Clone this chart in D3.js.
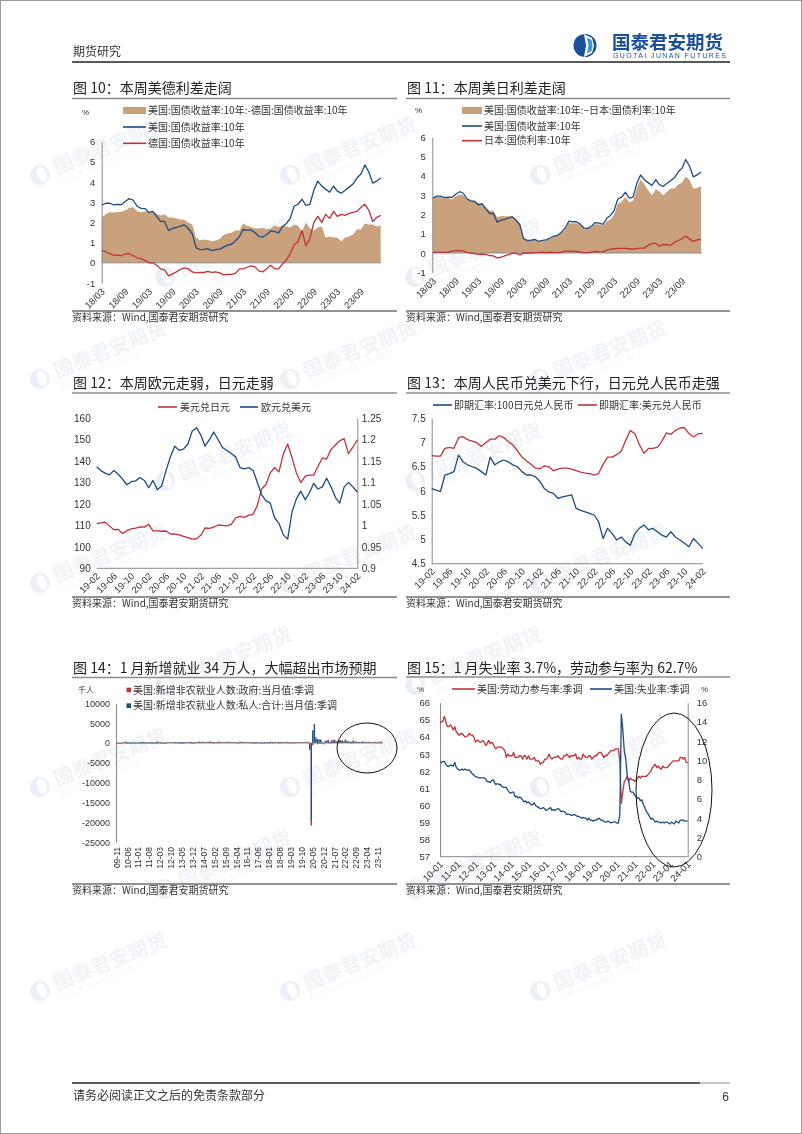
<!DOCTYPE html>
<html><head><meta charset="utf-8">
<script src="https://cdn.jsdelivr.net/npm/d3@7"></script>
<style>body{margin:0;background:#fff}svg{display:block}</style>
</head><body><svg id="page" width="802" height="1134"></svg>
<script>
// ---------------- DATA ----------------
// Fig 10/11: monthly, 2018-03 .. 2024-02
const bondStart = "2018-03";
const usYield = [2.85,2.95,2.95,2.87,2.90,2.88,3.05,3.18,3.10,2.80,
 2.70,2.68,2.50,2.55,2.30,2.05,2.05,1.60,1.70,1.75,1.82,1.88,
 1.70,1.45,0.75,0.65,0.67,0.70,0.60,0.65,0.68,0.78,0.88,0.92,
 1.08,1.30,1.65,1.62,1.62,1.50,1.30,1.28,1.40,1.58,1.55,1.48,
 1.80,1.95,2.20,2.80,2.90,3.15,2.85,2.90,3.60,4.05,3.80,3.65,
 3.50,3.80,3.55,3.45,3.60,3.75,3.90,4.20,4.40,4.85,4.50,3.95,
 4.05,4.20];
const deYield = [0.60,0.55,0.45,0.38,0.38,0.35,0.45,0.45,0.35,0.25,
 0.20,0.12,0.00,0.00,-0.12,-0.30,-0.35,-0.65,-0.55,-0.45,-0.33,-0.25,
 -0.30,-0.45,-0.50,-0.47,-0.48,-0.43,-0.47,-0.45,-0.50,-0.60,-0.57,-0.57,
 -0.52,-0.30,-0.30,-0.22,-0.15,-0.20,-0.40,-0.45,-0.28,-0.12,-0.30,-0.30,
 -0.05,0.15,0.45,0.90,1.05,1.60,0.85,1.20,2.00,2.30,2.00,2.40,
 2.20,2.55,2.30,2.40,2.35,2.45,2.50,2.55,2.75,2.90,2.60,2.05,
 2.25,2.35];
const jpYield = [0.04,0.05,0.05,0.03,0.05,0.10,0.12,0.14,0.10,0.03,
 0.00,-0.03,-0.07,-0.05,-0.07,-0.13,-0.15,-0.25,-0.22,-0.15,-0.08,-0.02,
 -0.02,-0.10,0.00,-0.02,0.00,0.02,0.02,0.04,0.02,0.04,0.02,0.02,
 0.04,0.10,0.10,0.09,0.08,0.05,0.02,0.02,0.05,0.09,0.07,0.06,
 0.15,0.20,0.22,0.24,0.24,0.24,0.22,0.20,0.24,0.25,0.25,0.40,
 0.50,0.50,0.35,0.45,0.43,0.40,0.55,0.65,0.75,0.88,0.72,0.60,
 0.68,0.72];
const bondTicks = ["18/03","18/09","19/03","19/09","20/03","20/09","21/03","21/09","22/03","22/09","23/03","23/09"];
const bondYTicks = [-1,0,1,2,3,4,5,6];

// Fig 12/13: monthly, 2019-02 .. 2024-02
const fxStart = "2019-02";
const usdJpy = [110.8,111.2,111.5,109.8,108.0,108.2,106.2,107.6,108.4,108.8,109.3,
 109.2,110.5,107.5,107.5,107.3,107.4,106.0,106.0,105.6,104.9,104.3,103.6,
 103.8,105.5,108.8,108.6,109.2,110.2,110.0,109.8,110.5,113.5,114.2,113.8,
 114.8,115.2,119.0,127.0,129.0,134.5,137.0,135.0,143.5,148.0,141.5,134.5,
 130.0,133.0,133.5,133.5,137.5,141.5,141.0,145.5,147.5,149.5,150.5,143.5,
 146.5,150.0];
const eurUsd = [1.137,1.128,1.122,1.118,1.128,1.120,1.108,1.095,1.102,1.104,1.112,
 1.105,1.088,1.105,1.083,1.092,1.128,1.160,1.185,1.175,1.178,1.190,1.220,
 1.228,1.210,1.185,1.200,1.218,1.200,1.182,1.175,1.168,1.160,1.135,1.132,
 1.135,1.128,1.102,1.072,1.058,1.052,1.018,1.005,0.978,0.968,1.032,1.062,
 1.080,1.060,1.075,1.098,1.085,1.090,1.110,1.090,1.065,1.052,1.090,1.100,
 1.090,1.078];
const jpyCny = [6.05,6.02,5.99,6.33,6.36,6.40,6.74,6.60,6.54,6.50,6.47,
 6.40,6.33,6.70,6.54,6.60,6.64,6.60,6.54,6.50,6.40,6.33,6.33,
 6.29,6.19,6.05,5.98,5.95,5.85,5.88,5.90,5.92,5.64,5.60,5.57,
 5.54,5.50,5.37,5.02,5.23,5.12,4.99,5.05,4.95,4.88,5.12,5.23,
 5.30,5.20,5.23,5.16,5.09,5.05,5.16,5.05,4.99,4.92,4.85,5.02,
 4.92,4.81];
const usdCny = [6.73,6.72,6.72,6.88,6.90,6.88,7.10,7.12,7.06,7.03,7.00,
 6.92,7.00,7.07,7.07,7.14,7.10,7.02,6.95,6.83,6.70,6.62,6.55,
 6.47,6.46,6.52,6.50,6.42,6.45,6.47,6.47,6.45,6.42,6.39,6.37,
 6.36,6.33,6.36,6.55,6.70,6.70,6.75,6.82,7.05,7.25,7.18,6.96,
 6.78,6.88,6.88,6.90,7.02,7.20,7.17,7.25,7.30,7.31,7.18,7.12,
 7.18,7.19];
const fxTicks = ["19-02","19-06","19-10","20-02","20-06","20-10","21-02","21-06","21-10","22-02","22-06","22-10","23-02","23-06","23-10","24-02"];
const jpyYTicks = [90,100,110,120,130,140,150,160];
const eurYTicks = [0.9,0.95,1,1.05,1.1,1.15,1.2,1.25];
const cnyYTicks = [4.5,5,5.5,6,6.5,7,7.5];

// Fig 14: monthly, 2009-11 .. 2024-01 (thousand persons)
const payrollStart = "2009-11";
const privatePayroll = [30,-80,
 -10,-60,140,230,50,80,100,120,110,150,130,120,
 90,250,250,290,170,180,170,140,250,150,170,220,
 370,250,230,90,110,70,170,150,180,180,160,200,
 200,270,130,190,220,190,130,230,160,250,270,70,
 180,180,240,310,230,290,250,210,270,240,340,260,
 200,240,100,260,320,200,260,150,130,290,230,250,
 120,220,220,150,10,270,290,150,240,130,190,180,
 240,230,100,200,170,210,200,190,10,250,210,180,
 180,300,170,180,260,230,180,280,140,270,190,250,
 280,40,180,230,80,180,160,160,160,150,230,140,
 240,260,-1650,-19800,3200,4700,1200,1000,900,900,300,-200,
 480,600,700,250,550,700,700,400,400,650,600,550,
 350,800,450,350,300,300,550,300,300,250,250,200,
 350,250,200,200,250,150,150,150,250,100,150,200,
 320];
const govPayroll = [10,-20,
 -30,10,50,40,400,-200,-90,-120,-70,-20,0,-40,
 -40,-10,-20,-40,-20,-60,-40,-50,-20,-30,-20,-20,
 -20,10,-20,-10,-10,-20,-10,10,10,10,10,10,
 -10,10,-20,0,-10,-10,-10,20,20,10,0,-20,
 -10,20,20,10,10,40,10,10,20,20,30,10,
 0,10,20,10,10,10,20,20,10,30,10,20,
 10,20,10,10,20,30,30,40,10,10,10,30,
 20,0,10,0,-10,20,0,0,20,0,10,0,
 0,20,0,10,10,10,0,10,0,10,10,20,
 10,30,10,20,10,20,20,20,30,10,20,10,
 30,40,-30,-980,-600,50,300,-300,-200,-100,-100,-50,
 40,10,100,-20,70,140,150,200,-50,20,40,40,
 30,80,40,40,20,0,50,30,40,40,40,30,
 40,40,50,50,60,60,50,70,70,50,50,40,
 35];
const payrollTicks = ["09-11","10-06","11-01","11-08","12-03","12-10","13-05","13-12","14-07","15-02","15-09","16-04","16-11","17-06","18-01","18-08","19-03","19-10","20-05","20-12","21-07","22-02","22-09","23-04","23-11"];
const payrollYTicks = [-25000,-20000,-15000,-10000,-5000,0,5000,10000];

// Fig 15: monthly, 2010-01 .. 2024-01
const laborStart = "2010-01";
const lfpr = [64.8,64.9,64.9,65.2,64.9,64.6,64.6,64.7,64.6,64.4,64.6,64.3,
 64.2,64.1,64.2,64.2,64.1,64.0,64.0,64.1,64.2,64.1,64.1,64.0,
 63.7,63.8,63.8,63.7,63.7,63.8,63.7,63.5,63.6,63.8,63.6,63.7,
 63.6,63.4,63.3,63.4,63.4,63.4,63.4,63.3,63.2,62.8,63.0,62.9,
 62.9,62.9,63.1,62.8,62.8,62.8,62.9,62.9,62.7,62.9,62.9,62.7,
 62.9,62.7,62.7,62.7,62.8,62.6,62.6,62.6,62.4,62.5,62.5,62.7,
 62.7,62.8,63.0,62.8,62.7,62.8,62.8,62.8,62.9,62.8,62.7,62.7,
 62.9,62.9,63.0,62.9,62.8,62.9,62.9,62.9,63.0,62.7,62.8,62.7,
 62.7,63.0,62.9,62.8,62.8,62.9,62.9,62.7,62.8,62.9,62.9,63.0,
 63.1,63.1,63.0,62.8,62.9,62.9,63.0,63.1,63.2,63.2,63.2,63.3,
 63.3,63.3,62.6,60.1,60.8,61.4,61.5,61.7,61.4,61.6,61.5,61.5,
 61.4,61.5,61.6,61.7,61.6,61.7,61.7,61.7,61.7,61.8,61.9,62.0,
 62.2,62.3,62.4,62.2,62.3,62.2,62.1,62.3,62.2,62.2,62.2,62.3,
 62.4,62.5,62.6,62.6,62.6,62.6,62.6,62.8,62.8,62.7,62.8,62.5,
 62.5];
const unemp = [9.8,9.8,9.9,9.9,9.6,9.4,9.4,9.5,9.5,9.4,9.8,9.3,
 9.1,9.0,9.0,9.1,9.0,9.1,9.0,9.0,9.0,8.8,8.6,8.5,
 8.3,8.3,8.2,8.2,8.2,8.2,8.2,8.1,7.8,7.8,7.7,7.9,
 8.0,7.7,7.5,7.6,7.5,7.5,7.3,7.2,7.2,7.2,6.9,6.7,
 6.6,6.7,6.7,6.2,6.3,6.1,6.2,6.1,5.9,5.7,5.8,5.6,
 5.7,5.5,5.4,5.4,5.6,5.3,5.2,5.1,5.0,5.0,5.1,5.0,
 4.8,4.9,5.0,5.1,4.8,4.9,4.8,4.9,5.0,4.9,4.7,4.7,
 4.7,4.6,4.4,4.4,4.4,4.3,4.3,4.4,4.3,4.2,4.2,4.1,
 4.0,4.1,4.0,4.0,3.8,4.0,3.8,3.8,3.7,3.8,3.8,3.9,
 4.0,3.8,3.8,3.7,3.6,3.6,3.7,3.6,3.5,3.6,3.6,3.6,
 3.5,3.5,4.4,14.8,13.2,11.0,10.2,8.4,7.8,6.8,6.7,6.7,
 6.4,6.2,6.1,6.1,5.8,5.9,5.4,5.1,4.7,4.5,4.2,3.9,
 4.0,3.8,3.6,3.7,3.6,3.6,3.5,3.6,3.5,3.6,3.6,3.5,
 3.4,3.6,3.5,3.4,3.7,3.6,3.5,3.8,3.8,3.8,3.7,3.7,
 3.7];
const laborTicks = ["10-01","11-01","12-01","13-01","14-01","15-01","16-01","17-01","18-01","19-01","20-01","21-01","22-01","23-01","24-01"];
const lfprYTicks = [57,58,59,60,61,62,63,64,65,66];
const unempYTicks = [0,2,4,6,8,10,12,14,16];

// ---------------- HELPERS ----------------
const CJK = '"Noto Sans CJK SC","Noto Sans CJK JP",sans-serif';
const NUM = '"Liberation Sans",Arial,sans-serif';
const BLUE = "#1f4b7d", RED = "#c3313a", TAN = "#c9a17c", AXIS = "#8a8a8a";
const svg = d3.select("#page");

function months(start, n){ const [y,m] = start.split("-").map(Number); return d3.range(n).map(i => new Date(y, m-1+i, 1)); }
function parseTick(s){ const p = s.split(/[-\/]/).map(Number); return new Date(2000+p[0], p[1]-1, 1); }
function txt(x, y, s, o={}){
  return svg.append("text").attr("x",x).attr("y",y).text(s)
    .attr("font-size", o.size||10).attr("fill", o.fill||"#333")
    .attr("font-family", o.font||CJK).attr("text-anchor", o.anchor||"start")
    .attr("font-weight", o.weight||"normal").attr("dy", o.dy||"0.35em");
}
function line(x1,y1,x2,y2,stroke,w){ return svg.append("line").attr("x1",x1).attr("y1",y1).attr("x2",x2).attr("y2",y2).attr("stroke",stroke).attr("stroke-width",w); }
function fmtNum(d){ return String(+(+d).toFixed(2)); }
function yAxis(side, scale, x, ticks, pad, size, showLine){
  const gen = (side==="left"?d3.axisLeft(scale):d3.axisRight(scale)).tickValues(ticks).tickFormat(fmtNum).tickSize(0).tickSizeOuter(0).tickPadding(pad);
  const g = svg.append("g").attr("transform",`translate(${x},0)`).call(gen);
  g.attr("font-family",NUM).attr("font-size",size);
  g.selectAll("text").attr("fill","#333");
  g.select(".domain").attr("stroke", showLine?AXIS:"none").attr("stroke-width",1);
  return g;
}
function xAxisRot(scale, y, ticks, size, rot, dx, dy){
  const gen = d3.axisBottom(scale).tickValues(ticks.map(parseTick)).tickFormat((d,i)=>ticks[i]).tickSize(0).tickSizeOuter(0);
  const g = svg.append("g").attr("transform",`translate(0,${y})`).call(gen);
  g.select(".domain").remove();
  g.attr("font-family",NUM).attr("font-size",size);
  g.selectAll("text").attr("fill","#333").attr("x",0).attr("y",0).attr("dy","0.35em")
    .attr("text-anchor","end").attr("transform",`translate(${dx},${dy}) rotate(${rot})`);
  return g;
}
function pathLine(data, x, y, color, w){
  svg.append("path").datum(data).attr("fill","none").attr("stroke",color).attr("stroke-width",w||1.3)
    .attr("stroke-linejoin","round").attr("d", d3.line().x(d=>x(d[0])).y(d=>y(d[1])));
}

// ---------------- PAGE ----------------
svg.append("rect").attr("x",0.5).attr("y",0.5).attr("width",801).attr("height",1133).attr("fill","#fff").attr("stroke","#9a9a9a");

// watermarks (faint, kept inside the page)
const wm = svg.append("g").attr("opacity",0.38);
for(let j=0;j<9;j++){
  const cols = (j%2) ? [165,415] : [40,290,540];
  cols.forEach(wx=>{
    const wy = 175 + j*102;
    const u = wm.append("g").attr("transform",`translate(${wx},${wy}) rotate(-22)`);
    u.append("circle").attr("cx",0).attr("cy",0).attr("r",10).attr("fill","#c9d7e8");
    u.append("ellipse").attr("cx",2).attr("cy",0).attr("rx",4.5).attr("ry",8).attr("fill","#fff");
    u.append("text").attr("x",16).attr("y",6).text("国泰君安期货").attr("font-family",CJK).attr("font-weight","bold").attr("font-size",20).attr("fill","#d8e1ec");
    u.append("text").attr("x",16).attr("y",16).text("GUOTAI JUNAN FUTURES").attr("font-family",NUM).attr("font-size",7).attr("fill","#dde5ee");
  });
}

// header
txt(73, 52, "期货研究", {size:12, fill:"#333"});
const logo = svg.append("g");
logo.append("circle").attr("cx",585).attr("cy",45.5).attr("r",11.5).attr("fill","#1b4f9c");
logo.append("path").attr("d","M584,34 L592,38 L594,45.5 L592,53 L584,57 L586,45.5 Z").attr("fill","#fff");
logo.append("path").attr("d","M587,37.5 L591.5,40 L592.5,45.5 L591.5,51 L587,53.5 L588.5,45.5 Z").attr("fill","#3d93d8");
txt(612, 42.5, "国泰君安期货", {size:18.5, fill:"#1b4f9c", weight:"bold"});
svg.append("text").attr("x",613).attr("y",58).text("GUOTAI JUNAN FUTURES").attr("font-family",NUM).attr("font-size",7)
  .attr("fill","#1b4f9c").attr("textLength",113).attr("lengthAdjust","spacing");
line(72, 62, 730, 62, "#222", 1.3);

// footer
line(72, 1083, 700, 1083, "#222", 1.5);
line(700, 1083, 730, 1083, "#b5b5b5", 1.5);
txt(73, 1096, "请务必阅读正文之后的免责条款部分", {size:12, fill:"#333"});
txt(729, 1097, "6", {size:12, fill:"#333", anchor:"end", font:NUM});

function frame(x0, x1, titleY, underY, srcLineY, title){
  txt(x0+1, titleY, title, {size:14, fill:"#222"});
  line(x0, underY, x1, underY, "#8c8c8c", 1.5);
  line(x0, srcLineY, x1, srcLineY, "#6e6e6e", 1.5);
  txt(x0, srcLineY+6, "资料来源：Wind,国泰君安期货研究", {size:10, fill:"#333"});
}

// ---------------- FIG 10 ----------------
(function(){
  frame(72, 397, 88, 98.5, 311, "图 10：本周美德利差走阔");
  const dates = months(bondStart, usYield.length);
  const x = d3.scaleTime().domain([dates[0], dates[dates.length-1]]).range([101.7, 380.7]);
  const y = d3.scaleLinear().domain([-1,6]).range([283,141.7]);
  txt(82, 112, "%", {size:8, font:NUM});
  svg.append("rect").attr("x",123).attr("y",107).attr("width",23).attr("height",7).attr("fill",TAN);
  txt(148, 110.5, "美国:国债收益率:10年:-德国:国债收益率:10年", {size:10});
  line(123,127,146,127,BLUE,1.6); txt(148, 127, "美国:国债收益率:10年", {size:10});
  line(123,143.3,146,143.3,RED,1.6); txt(148, 143.3, "德国:国债收益率:10年", {size:10});
  const rows = dates.map((d,i)=>({d, us:usYield[i], de:deYield[i]}));
  svg.append("path").datum(rows).attr("fill",TAN)
    .attr("d", d3.area().x(r=>x(r.d)).y0(y(0)).y1(r=>y(r.us - r.de)));
  line(101.7, y(0), 381, y(0), AXIS, 1);
  yAxis("left", y, 101.7, bondYTicks, 6.5, 9.5, true);
  pathLine(rows.map(r=>[r.d, r.us]), x, y, BLUE);
  pathLine(rows.map(r=>[r.d, r.de]), x, y, RED);
  xAxisRot(x, 283, bondTicks, 9.5, -45, 1, 7);
})();

// ---------------- FIG 11 ----------------
(function(){
  frame(406, 730, 88, 98.5, 311, "图 11：本周美日利差走阔");
  const dates = months(bondStart, usYield.length);
  const x = d3.scaleTime().domain([dates[0], dates[dates.length-1]]).range([433, 701]);
  const y = d3.scaleLinear().domain([-1,6]).range([272.3,137.3]);
  txt(415, 110, "%", {size:8, font:NUM});
  svg.append("rect").attr("x",462).attr("y",107).attr("width",20).attr("height",7).attr("fill",TAN);
  txt(484, 110.5, "美国:国债收益率:10年:−日本:国债利率:10年", {size:10});
  line(462,126,482,126,BLUE,1.6); txt(484, 126, "美国:国债收益率:10年", {size:10});
  line(462,140.7,482,140.7,RED,1.6); txt(484, 140.7, "日本:国债利率:10年", {size:10});
  const rows = dates.map((d,i)=>({d, us:usYield[i], jp:jpYield[i]}));
  svg.append("path").datum(rows).attr("fill",TAN)
    .attr("d", d3.area().x(r=>x(r.d)).y0(y(0)).y1(r=>y(r.us - r.jp)));
  line(432.3, y(0), 702, y(0), AXIS, 1);
  yAxis("left", y, 432.3, bondYTicks, 6.5, 9.5, true);
  pathLine(rows.map(r=>[r.d, r.us]), x, y, BLUE);
  pathLine(rows.map(r=>[r.d, r.jp]), x, y, RED);
  xAxisRot(x, 272.3, bondTicks, 9.5, -45, 1, 7);
})();

// ---------------- FIG 12 ----------------
(function(){
  frame(72, 397, 383, 393, 597, "图 12：本周欧元走弱，日元走弱");
  const dates = months(fxStart, usdJpy.length);
  const x = d3.scaleTime().domain([dates[0], dates[dates.length-1]]).range([96.7, 357.3]);
  const yl = d3.scaleLinear().domain([90,160]).range([568.3,418.3]);
  const yr = d3.scaleLinear().domain([0.9,1.25]).range([568.3,418.3]);
  line(158,407,177,407,RED,1.6); txt(180, 407, "美元兑日元", {size:10});
  line(240,407,258,407,BLUE,1.6); txt(261, 407, "欧元兑美元", {size:10});
  yAxis("left", yl, 96.7, jpyYTicks, 6, 10, false);
  yAxis("right", yr, 357.3, eurYTicks, 4.5, 10, true);
  line(96.7, 568.3, 357.3, 568.3, AXIS, 1);
  pathLine(dates.map((d,i)=>[d, usdJpy[i]]), x, yl, RED);
  pathLine(dates.map((d,i)=>[d, eurUsd[i]]), x, yr, BLUE);
  xAxisRot(x, 568.3, fxTicks, 9.5, -45, 1, 6);
})();

// ---------------- FIG 13 ----------------
(function(){
  frame(406, 730, 383, 393, 597, "图 13：本周人民币兑美元下行，日元兑人民币走强");
  const dates = months(fxStart, jpyCny.length);
  const x = d3.scaleTime().domain([dates[0], dates[dates.length-1]]).range([431.7, 702.7]);
  const y = d3.scaleLinear().domain([4.5,7.5]).range([563.7,418.3]);
  line(433,405,452,405,BLUE,1.6); txt(454, 405, "即期汇率:100日元兑人民币", {size:10});
  line(578,405,597,405,RED,1.6); txt(599, 405, "即期汇率:美元兑人民币", {size:10});
  yAxis("left", y, 431.7, cnyYTicks, 6, 10, true);
  line(431.7, 563.7, 702.7, 563.7, AXIS, 1);
  pathLine(dates.map((d,i)=>[d, jpyCny[i]]), x, y, BLUE);
  pathLine(dates.map((d,i)=>[d, usdCny[i]]), x, y, RED);
  xAxisRot(x, 563.7, fxTicks, 9.5, -45, 1, 6);
})();

// ---------------- FIG 14 ----------------
(function(){
  frame(72, 397, 668, 677.5, 884, "图 14：1 月新增就业 34 万人，大幅超出市场预期");
  const dates = months(payrollStart, privatePayroll.length);
  const rows = dates.map((d,i)=>({key:+d, private:privatePayroll[i], gov:govPayroll[i]}));
  const x = d3.scaleBand().domain(rows.map(r=>r.key)).range([116, 382]).paddingInner(0.08);
  const y = d3.scaleLinear().domain([-25000,10000]).range([842.3,703.3]);
  txt(78, 690, "千人", {size:8});
  svg.append("rect").attr("x",126.5).attr("y",687.7).attr("width",4.6).attr("height",4.6).attr("fill",RED);
  txt(133, 690, "美国:新增非农就业人数:政府:当月值:季调", {size:10});
  svg.append("rect").attr("x",126.5).attr("y",703.4).attr("width",4.6).attr("height",4.6).attr("fill",BLUE);
  txt(133, 705.7, "美国:新增非农就业人数:私人:合计:当月值:季调", {size:10});
  yAxis("left", y, 116, payrollYTicks, 6, 9, true);
  const stacked = d3.stack().keys(["private","gov"]).offset(d3.stackOffsetDiverging)(rows);
  const colors = {private:BLUE, gov:RED};
  stacked.forEach(s=>{
    svg.append("g").attr("fill",colors[s.key]).selectAll("rect").data(s).join("rect")
      .attr("x", d=>x(d.data.key)).attr("width", x.bandwidth())
      .attr("y", d=>y(Math.max(d[0],d[1]))).attr("height", d=>Math.max(0.6, Math.abs(y(d[0])-y(d[1]))));
  });
  line(116, y(0), 383, y(0), AXIS, 1);
  const lg = svg.append("g").attr("font-family",NUM).attr("font-size",8.5).attr("fill","#333");
  payrollTicks.forEach(t=>{
    const d = parseTick(t);
    const cx = x(+d) + x.bandwidth()/2;
    lg.append("text").attr("transform",`translate(${cx},847) rotate(-90)`).attr("text-anchor","end").attr("dy","0.35em").text(t);
  });
  svg.append("ellipse").attr("cx",367).attr("cy",748).attr("rx",30).attr("ry",25).attr("fill","none").attr("stroke","#111").attr("stroke-width",1);
})();

// ---------------- FIG 15 ----------------
(function(){
  frame(406, 730, 668, 677, 884, "图 15：1 月失业率 3.7%，劳动参与率为 62.7%");
  const dates = months(laborStart, lfpr.length);
  const x = d3.scaleTime().domain([dates[0], dates[dates.length-1]]).range([440, 687.7]);
  const yl = d3.scaleLinear().domain([57,66]).range([856.7,702.7]);
  const yr = d3.scaleLinear().domain([0,16]).range([856.7,702.7]);
  txt(417, 689, "%", {size:8, font:NUM});
  txt(701, 689, "%", {size:8, font:NUM});
  line(452,689,475,689,RED,1.6); txt(477, 689, "美国:劳动力参与率:季调", {size:10});
  line(590,689,612,689,BLUE,1.6); txt(614, 689, "美国:失业率:季调", {size:10});
  yAxis("left", yl, 440, lfprYTicks, 10, 9.5, true);
  yAxis("right", yr, 687.7, unempYTicks, 9, 9.5, true);
  line(440, 856.7, 687.7, 856.7, AXIS, 1);
  pathLine(dates.map((d,i)=>[d, lfpr[i]]), x, yl, RED);
  pathLine(dates.map((d,i)=>[d, unemp[i]]), x, yr, BLUE);
  xAxisRot(x, 856.7, laborTicks, 9.5, -45, 1, 6);
  svg.append("ellipse").attr("cx",674).attr("cy",790).attr("rx",38).attr("ry",77).attr("fill","none").attr("stroke","#111").attr("stroke-width",1);
})();
</script></body></html>
